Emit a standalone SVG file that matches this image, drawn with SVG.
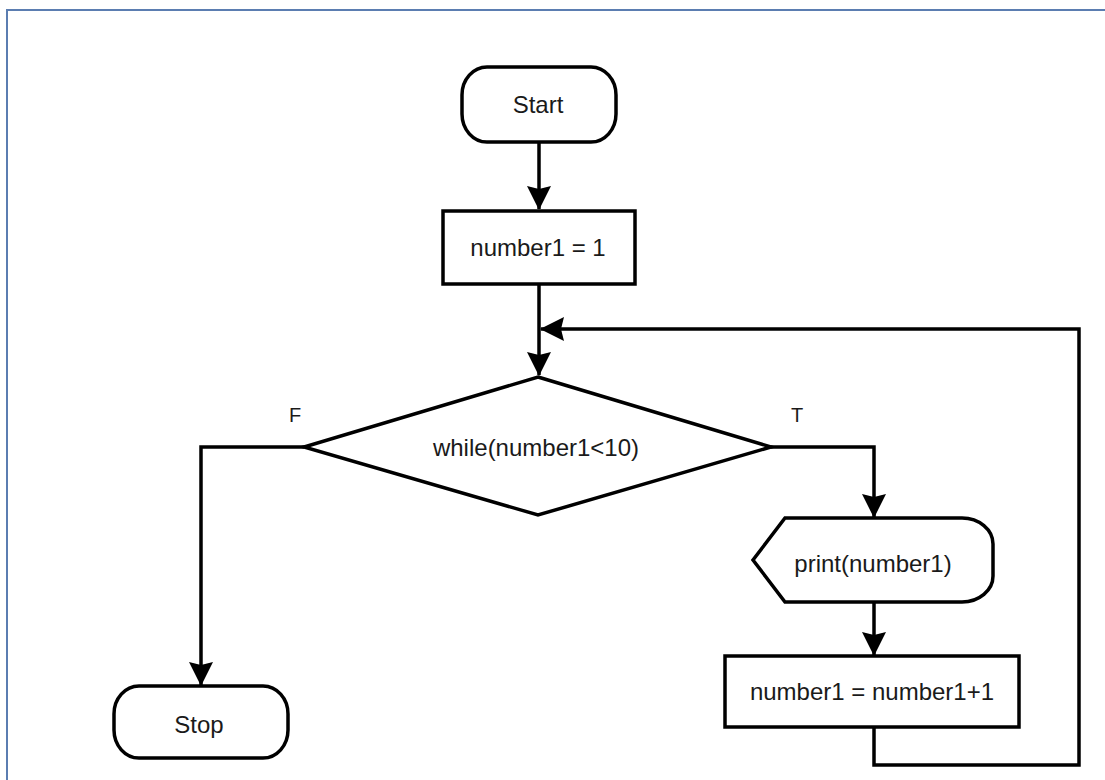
<svg xmlns="http://www.w3.org/2000/svg" width="1105" height="780" viewBox="0 0 1105 780">
  <style>
    .shape { fill: #ffffff; stroke: #000000; stroke-width: 3.5; stroke-linejoin: miter; }
    .conn { fill: none; stroke: #000000; stroke-width: 3.5; stroke-linejoin: miter; }
    .lbl { font-family: "Liberation Sans", Arial, sans-serif; font-size: 24px; fill: #1a1a1a; text-anchor: middle; }
    .small { font-family: "Liberation Sans", Arial, sans-serif; font-size: 20px; fill: #1a1a1a; text-anchor: middle; }
    .frame { fill: none; stroke: #5b7db1; stroke-width: 2; }
  </style>
  <defs>
    <marker id="arr" markerUnits="userSpaceOnUse" markerWidth="24" markerHeight="24" viewBox="0 0 24 24" refX="23" refY="12" orient="auto">
      <path d="M0,0 L24,12 L0,24 L3,12 Z" fill="#000000"/>
    </marker>
  </defs>
  <rect width="1105" height="780" fill="#ffffff"/>
  <path class="frame" d="M7,780 L7,10 L1105,10"/>

  <g id="connectors">
    <path class="conn" d="M539,142 L539,209" marker-end="url(#arr)"/>
    <path class="conn" d="M539,284 L539,375" marker-end="url(#arr)"/>
    <path class="conn" d="M304,447 L201,447 L201,685" marker-end="url(#arr)"/>
    <path class="conn" d="M771,447 L874,447 L874,517" marker-end="url(#arr)"/>
    <path class="conn" d="M874,602 L874,655" marker-end="url(#arr)"/>
    <path class="conn" d="M874,727 L874,765 L1079,765 L1079,329 L541,329" marker-end="url(#arr)"/>
  </g>

  <g id="start">
    <path class="shape" d="M487,67 L591,67 A25,28 0 0 1 616,95 L616,114 A25,28 0 0 1 591,142 L487,142 A25,28 0 0 1 462,114 L462,95 A25,28 0 0 1 487,67 Z"/>
    <text class="lbl" x="538" y="113">Start</text>
  </g>

  <g id="init">
    <rect class="shape" x="443" y="211" width="192" height="73"/>
    <text class="lbl" x="538" y="256">number1 = 1</text>
  </g>

  <g id="decision">
    <polygon class="shape" points="538,377 771,447 538,515 304,447"/>
    <text class="lbl" x="536" y="456">while(number1&lt;10)</text>
    <text class="small" x="295" y="422">F</text>
    <text class="small" x="797" y="422">T</text>
  </g>

  <g id="print">
    <path class="shape" d="M785,518 L962,518 A31,26 0 0 1 993,544 L993,576 A31,26 0 0 1 962,602 L785,602 L753,560 Z"/>
    <text class="lbl" x="873" y="572">print(number1)</text>
  </g>

  <g id="increment">
    <rect class="shape" x="725" y="656" width="294" height="71"/>
    <text class="lbl" x="872" y="700">number1 = number1+1</text>
  </g>

  <g id="stop">
    <path class="shape" d="M139,686 L263,686 A25,28 0 0 1 288,714 L288,730 A25,28 0 0 1 263,758 L139,758 A25,28 0 0 1 114,730 L114,714 A25,28 0 0 1 139,686 Z"/>
    <text class="lbl" x="199" y="733">Stop</text>
  </g>
</svg>
